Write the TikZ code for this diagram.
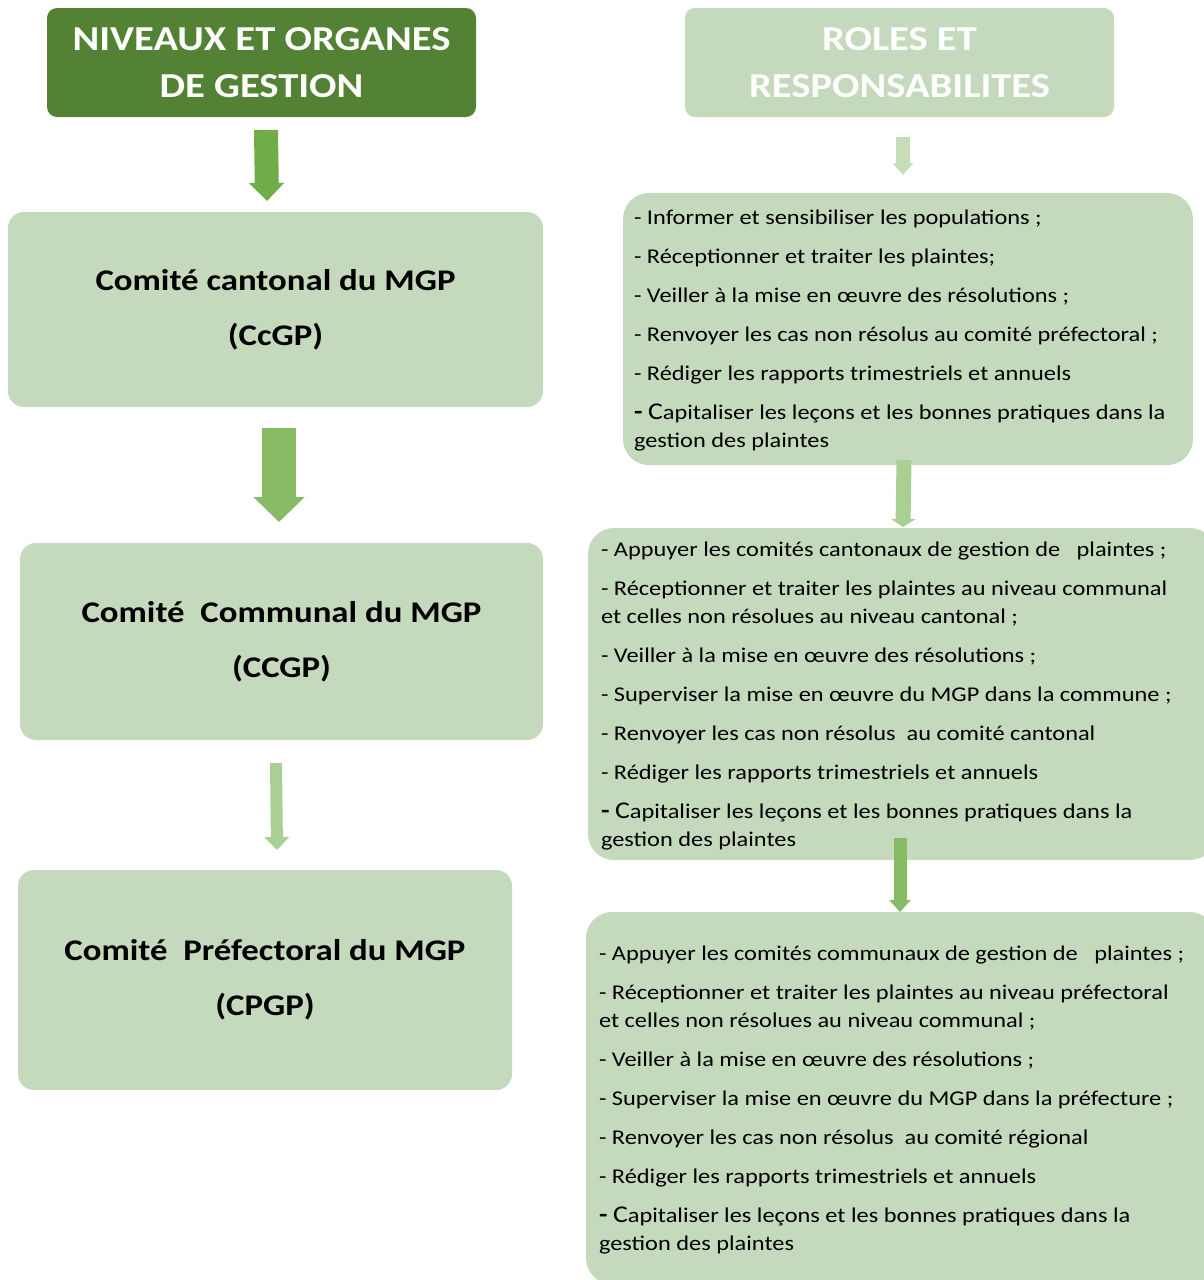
\documentclass[tikz,border=0pt]{standalone}
\usepackage{fontspec}
\setmainfont{Carlito}[FakeStretch=1.16]
\usetikzlibrary{arrows.meta,calc}
\definecolor{boxgreen}{RGB}{197,217,189}
\definecolor{darkgreen}{RGB}{84,130,53}
\definecolor{arrA}{RGB}{112,173,71}
\definecolor{arrB}{RGB}{136,187,102}
\definecolor{arrC}{RGB}{169,207,148}
\definecolor{arrD}{RGB}{198,222,184}
\newcommand\capdash{{\fontsize{24}{28}\selectfont\bfseries -} {\fontsize{24}{28}\selectfont C}}
\begin{document}
\begin{tikzpicture}[x=1pt,y=-1pt,
  titlebox/.style={fill=#1, draw=none, rounded corners=10pt, text=white,
    font=\fontsize{35}{47}\selectfont\bfseries, align=center, inner sep=0pt},
  lbox/.style={fill=boxgreen, draw=none, rounded corners=16pt,
    font=\fontsize{30}{55}\selectfont\bfseries, align=center, inner sep=0pt},
  rbox/.style={fill=boxgreen, draw=none, rounded corners=26pt, inner sep=0pt},
  rtext/.style={anchor=west, align=left, inner sep=0pt,
    font=\fontsize{21}{28}\selectfont},
  blockarrow/.style n args={4}{draw=#1, line width=#2,
    -{Triangle[width=#3,length=#4]}}
]
\useasboundingbox (0,0) rectangle (1204,1280);
\clip (0,0) rectangle (1204,1280);

% titles
\node[titlebox=darkgreen, minimum width=429pt, minimum height=109pt] (T1) at (261.5,62.5)
  {NIVEAUX ET ORGANES\\DE GESTION};
\node[titlebox=boxgreen, minimum width=429pt, minimum height=109pt] (T2) at (899.5,62.5)
  {ROLES ET\\RESPONSABILITES};

% left boxes
\node[lbox, minimum width=535pt, minimum height=195pt] (L1) at (275.5,309.5)
  {Comité cantonal du MGP\\(CcGP)};
\node[lbox, minimum width=523pt, minimum height=197pt] (L2) at (281.5,641.5)
  {Comité~~Communal du MGP\\(CCGP)};
\node[lbox, minimum width=494pt, minimum height=220pt] (L3) at (265,980)
  {Comité~~Préfectoral du MGP\\(CPGP)};

% right boxes
\node[rbox, minimum width=570pt, minimum height=272pt] (R1) at (908,329) {};
\node[rbox, minimum width=628pt, minimum height=332pt] (R2) at (902,694) {};
\node[rbox, minimum width=630pt, minimum height=372pt] (R3) at (901,1098) {};

\node[rtext] (R1t) at ($(R1.west)+(11,2)$) {%
- Informer et sensibiliser les populations ;\\[11pt]
- Réceptionner et traiter les plaintes;\\[11pt]
- Veiller à la mise en œuvre des résolutions ;\\[11pt]
- Renvoyer les cas non résolus au comité préfectoral ;\\[11pt]
- Rédiger les rapports trimestriels et annuels\\[11pt]
\capdash apitaliser les leçons et les bonnes pratiques dans la\\
gestion des plaintes};

\node[rtext] (R2t) at ($(R2.west)+(13,2.5)$) {%
- Appuyer les comités cantonaux de gestion de~~~plaintes ;\\[11pt]
- Réceptionner et traiter les plaintes au niveau communal\\
et celles non résolues au niveau cantonal ;\\[11pt]
- Veiller à la mise en œuvre des résolutions ;\\[11pt]
- Superviser la mise en œuvre du MGP dans la commune ;\\[11pt]
- Renvoyer les cas non résolus~~au comité cantonal\\[11pt]
- Rédiger les rapports trimestriels et annuels\\[11pt]
\capdash apitaliser les leçons et les bonnes pratiques dans la\\
gestion des plaintes};

\node[rtext] (R3t) at ($(R3.west)+(13,2)$) {%
- Appuyer les comités communaux de gestion de~~~plaintes ;\\[11pt]
- Réceptionner et traiter les plaintes au niveau préfectoral\\
et celles non résolues au niveau communal ;\\[11pt]
- Veiller à la mise en œuvre des résolutions ;\\[11pt]
- Superviser la mise en œuvre du MGP dans la préfecture ;\\[11pt]
- Renvoyer les cas non résolus~~au comité régional\\[11pt]
- Rédiger les rapports trimestriels et annuels\\[11pt]
\capdash apitaliser les leçons et les bonnes pratiques dans la\\
gestion des plaintes};

% arrow end points
\coordinate (a1s) at (266,130);  \coordinate (a1e) at (267,201);
\coordinate (a2s) at (279,428);  \coordinate (a2e) at (279,522);
\coordinate (a3s) at (276,763);  \coordinate (a3e) at (277,850);
\coordinate (b1s) at (903,137);  \coordinate (b1e) at (903,175);
\coordinate (b2s) at (904,460);  \coordinate (b2e) at (903,527);
\coordinate (b3s) at (900,838);  \coordinate (b3e) at (900,912);

% arrows
\draw[blockarrow={arrA}{24pt}{34pt}{18pt}] (a1s) -- (a1e);
\draw[blockarrow={arrB}{34pt}{50pt}{25pt}] (a2s) -- (a2e);
\draw[blockarrow={arrC}{12pt}{24pt}{13pt}] (a3s) -- (a3e);
\draw[blockarrow={arrD}{14pt}{20pt}{12pt}] (b1s) -- (b1e);
\draw[blockarrow={arrC}{15pt}{24pt}{8pt}] (b2s) -- (b2e);
\draw[blockarrow={arrB}{13pt}{21pt}{12pt}] (b3s) -- (b3e);
\end{tikzpicture}
\end{document}
